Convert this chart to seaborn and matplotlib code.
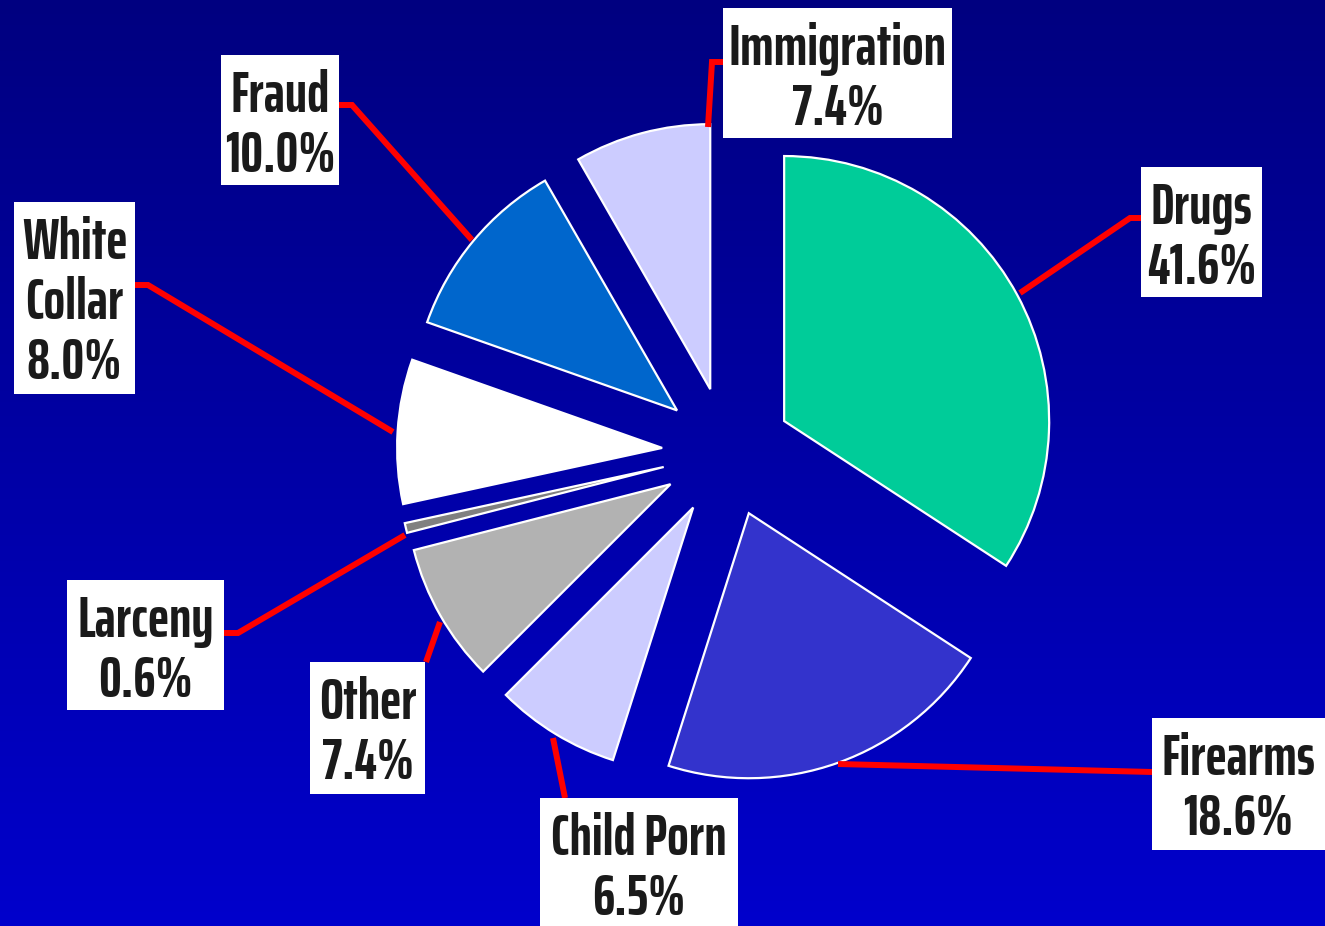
import numpy as np
import matplotlib
matplotlib.use("Agg")
import matplotlib.pyplot as plt
import seaborn as sns
from matplotlib import font_manager as fm
from matplotlib.patches import Rectangle

# ---- data ----
categories = ["Drugs", "Firearms", "Child Porn", "Other", "Larceny", "White\nCollar", "Fraud", "Immigration"]
label_pcts = ["41.6%", "18.6%", "6.5%", "7.4%", "0.6%", "8.0%", "10.0%", "7.4%"]
drawn_shares = [34.2, 20.7, 7.6, 8.5, 0.6, 8.8, 11.3, 8.3]
colors = ["#00CC99", "#3333CC", "#CCCCFF", "#B2B2B2", "#808080", "#FFFFFF", "#0066CC", "#CCCCFF"]

sns.set_theme(style="white")
names = {f.name for f in fm.fontManager.ttflist}
fam = "Saira ExtraCondensed" if "Saira ExtraCondensed" in names else "DejaVu Sans"
plt.rcParams["font.family"] = [fam, "DejaVu Sans"]

W, H = 1325, 926
CX, CY, R = 727, 452, 265


def px(x, y):
    return (x - CX) / R, (CY - y) / R


fig = plt.figure(figsize=(W / 100, H / 100), dpi=100)
ax = fig.add_axes([0, 0, 1, 1])
x0, y0 = px(0, H)
x1, y1 = px(W, 0)

# gradient background
grad = np.linspace(0, 1, 256)[:, None]
top = np.array([0x00, 0x00, 0x80]) / 255
bot = np.array([0x00, 0x00, 0xCC]) / 255
img = top[None, None, :] * (1 - grad[:, :, None]) + bot[None, None, :] * grad[:, :, None]
ax.imshow(img, extent=[x0, x1, y0, y1], aspect="auto", zorder=0, origin="upper")

explode = [65 / R] * len(drawn_shares)
ax.pie(drawn_shares, colors=colors, startangle=90, counterclock=False,
       explode=explode, radius=1, center=(0, 0), normalize=True,
       wedgeprops=dict(edgecolor="white", linewidth=1.6, zorder=2), frame=True)
ax.set_xlim(x0, x1)
ax.set_ylim(y0, y1)
ax.set_aspect("auto")
ax.axis("off")

boxes = {
    "Drugs": (1141, 167, 1262, 297),
    "Firearms": (1152, 718, 1325, 850),
    "Child Porn": (540, 798, 738, 926),
    "Other": (310, 662, 425, 794),
    "Larceny": (67, 580, 224, 710),
    "White\nCollar": (14, 202, 135, 394),
    "Fraud": (221, 55, 339, 185),
    "Immigration": (723, 8, 952, 138),
}
leaders = {
    "Drugs": [(1020, 293), (1130, 218), (1141, 218)],
    "Firearms": [(838, 764), (1152, 772)],
    "Child Porn": [(553, 738), (565, 798)],
    "Other": [(440, 622), (426, 662)],
    "Larceny": [(405, 535), (238, 633), (224, 633)],
    "White\nCollar": [(393, 432), (148, 285), (135, 285)],
    "Fraud": [(472, 240), (352, 105), (339, 105)],
    "Immigration": [(708, 127), (712, 62), (723, 62)],
}

for cat, pct in zip(categories, label_pcts):
    pts = np.array([px(*p) for p in leaders[cat]])
    ax.plot(pts[:, 0], pts[:, 1], color="#FF0000", lw=4.3, solid_capstyle="butt",
            solid_joinstyle="miter", zorder=3)
    l, t, r, b = boxes[cat]
    bx, by = px(l, b)
    ax.add_patch(Rectangle((bx, by), (r - l) / R, (b - t) / R, facecolor="white",
                           edgecolor="none", zorder=4))
    lines = cat.split("\n") + [pct]
    for i, line in enumerate(lines):
        tx, ty = px((l + r) / 2, t + 57 + 60 * i)
        ax.text(tx, ty, line, ha="center", va="baseline", fontsize=41,
                fontweight="bold", color="#1A1A1A", zorder=5)

fig.savefig("out.png", dpi=100)
